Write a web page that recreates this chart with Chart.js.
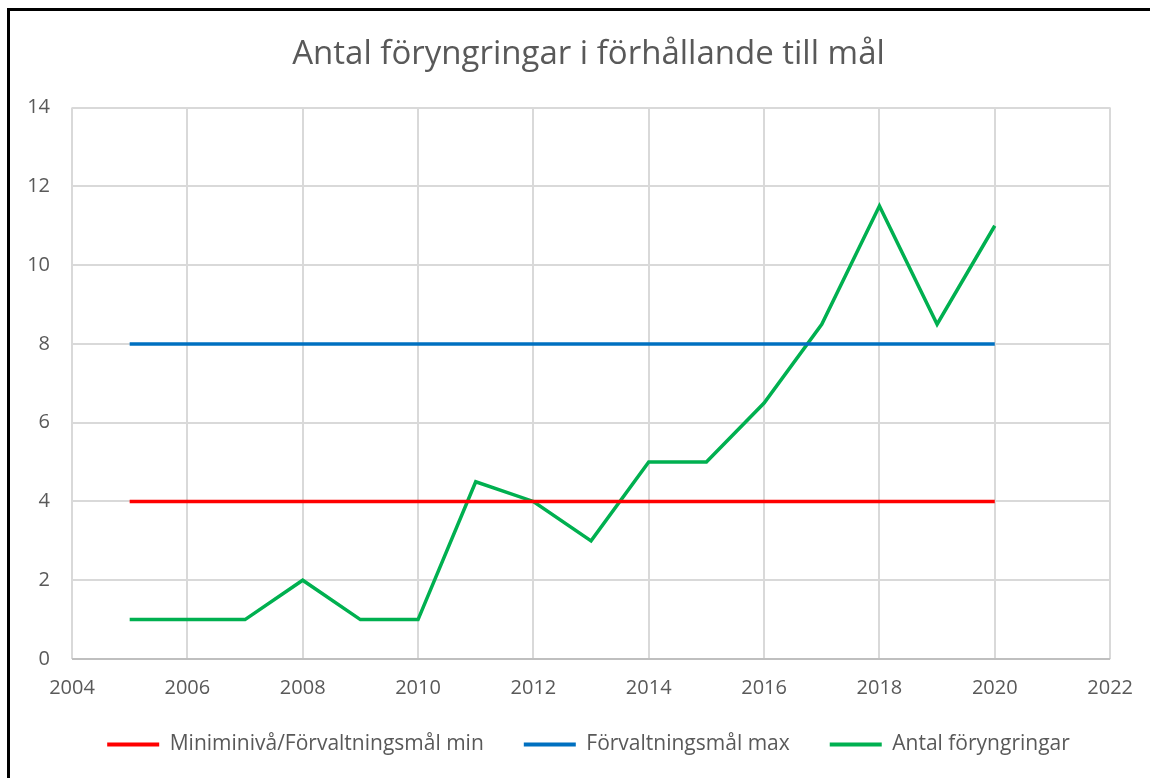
<!DOCTYPE html>
<html>
<head>
<meta charset="utf-8">
<script src="https://cdn.jsdelivr.net/npm/chart.js@4.4.1/dist/chart.umd.min.js"></script>
<style>
  html, body { margin: 0; padding: 0; background: #fff; }
  #wrap { position: relative; width: 1150px; height: 778px; overflow: hidden; }
  #ram { position: absolute; left: 7px; top: 8px; right: 0; bottom: 0;
         border-top: 3px solid #000; border-left: 3px solid #000; pointer-events: none; }
</style>
</head>
<body>
<div id="wrap">
  <canvas id="diagram" width="1150" height="778"></canvas>
  <div id="ram"></div>
</div>
<script>
// Data
const ar = [2005, 2006, 2007, 2008, 2009, 2010, 2011, 2012, 2013, 2014, 2015, 2016, 2017, 2018, 2019, 2020];
const antalForyngringar = [1, 1, 1, 2, 1, 1, 4.5, 4, 3, 5, 5, 6.5, 8.5, 11.5, 8.5, 11];
const malMin = [4, 4, 4, 4, 4, 4, 4, 4, 4, 4, 4, 4, 4, 4, 4, 4];
const malMax = [8, 8, 8, 8, 8, 8, 8, 8, 8, 8, 8, 8, 8, 8, 8, 8];
const xTicks = [2004, 2006, 2008, 2010, 2012, 2014, 2016, 2018, 2020, 2022];
const yTicks = [0, 2, 4, 6, 8, 10, 12, 14];

const textColor = '#595959';
const gridColor = '#d9d9d9';
const axisColor = '#bfbfbf';
const font = 'Open Sans';

const punkter = vals => ar.map((a, i) => ({ x: a, y: vals[i] }));

function serie(label, vals, color) {
  return {
    label: label,
    data: punkter(vals),
    borderColor: color,
    backgroundColor: color,
    borderWidth: 3.5,
    pointRadius: 0,
    tension: 0
  };
}

new Chart(document.getElementById('diagram').getContext('2d'), {
  type: 'line',
  data: {
    datasets: [
      serie('Miniminivå/Förvaltningsmål min', malMin, '#ff0000'),
      serie('Förvaltningsmål max', malMax, '#0070c0'),
      serie('Antal föryngringar', antalForyngringar, '#00b050')
    ]
  },
  options: {
    responsive: false,
    animation: false,
    devicePixelRatio: 1,
    layout: { padding: { top: 0, left: 66, right: 39, bottom: 13 } },
    scales: {
      x: {
        type: 'linear',
        min: xTicks[0],
        max: xTicks[xTicks.length - 1],
        afterBuildTicks: s => { s.ticks = xTicks.map(v => ({ value: v })); },
        afterFit: s => { s.height = 35; },
        ticks: {
          color: textColor,
          font: { family: font, size: 20 },
          padding: 17,
          maxRotation: 0,
          callback: v => String(v)
        },
        grid: { color: gridColor, lineWidth: 2, drawTicks: false },
        border: { display: false }
      },
      y: {
        min: yTicks[0],
        max: yTicks[yTicks.length - 1],
        afterBuildTicks: s => { s.ticks = yTicks.map(v => ({ value: v })); },
        afterFit: s => {
          s.width = 6;
          // let the tick labels draw outside the narrow axis box
          s._computeLabelArea = () => undefined;
        },
        ticks: {
          color: textColor,
          font: { family: font, size: 20 },
          padding: 22
        },
        grid: {
          color: c => (c.tick && c.tick.value === 0 ? axisColor : gridColor),
          lineWidth: 2,
          drawTicks: false
        },
        border: { display: false }
      }
    },
    plugins: {
      title: {
        display: true,
        text: 'Antal föryngringar i förhållande till mål',
        color: textColor,
        font: { family: font, size: 33, weight: 'normal' },
        padding: { top: 35, bottom: 33 }
      },
      legend: {
        position: 'bottom',
        labels: {
          color: textColor,
          font: { family: font, size: 21 },
          boxWidth: 52,
          boxHeight: 4,
          padding: 40,
          generateLabels: chart =>
            Chart.defaults.plugins.legend.labels.generateLabels(chart).map(l => ({ ...l, lineWidth: 0 }))
        }
      },
      tooltip: { enabled: false }
    }
  }
});
</script>
</body>
</html>
